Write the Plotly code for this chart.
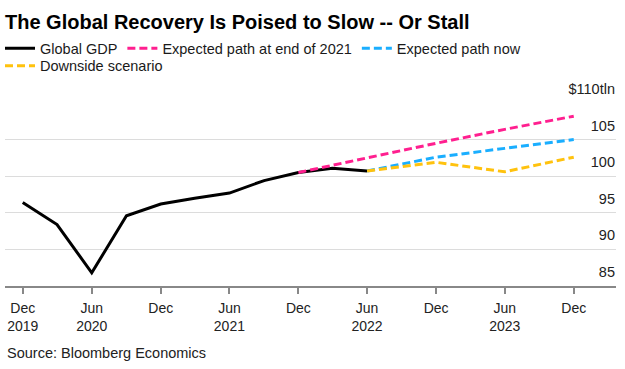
import plotly.graph_objects as go

# ---- data ----
gdp_dates = ["2019-12-01", "2020-03-01", "2020-06-01", "2020-09-01", "2020-12-01",
             "2021-03-01", "2021-06-01", "2021-09-01", "2021-12-01", "2022-03-01",
             "2022-06-01"]
gdp_values = [96.4, 93.4, 86.8, 94.6, 96.2, 97.0, 97.7, 99.4, 100.5, 101.1, 100.7]

end2021_dates = ["2021-12-01", "2022-06-01", "2022-12-01", "2023-06-01", "2023-12-01"]
end2021_values = [100.5, 102.5, 104.5, 106.4, 108.2]

now_dates = ["2022-06-01", "2022-12-01", "2023-06-01", "2023-12-01"]
now_values = [100.7, 102.6, 103.8, 105.0]

down_dates = ["2022-06-01", "2022-12-01", "2023-06-01", "2023-12-01"]
down_values = [100.7, 101.9, 100.6, 102.6]

x_tick_vals = ["2019-12-01", "2020-06-01", "2020-12-01", "2021-06-01", "2021-12-01",
               "2022-06-01", "2022-12-01", "2023-06-01", "2023-12-01"]
x_tick_labels = ["Dec<br>2019", "Jun<br>2020", "Dec", "Jun<br>2021", "Dec",
                 "Jun<br>2022", "Dec", "Jun<br>2023", "Dec"]

y_tick_vals = [85, 90, 95, 100, 105, 110]
y_tick_labels = ["85", "90", "95", "100", "105", "$110tln"]

FONT = "Liberation Sans, Arial, Helvetica, sans-serif"
W, H = 625, 369
M_L, M_R, M_T, M_B = 5, 9, 103, 83
PLOT_W = W - M_L - M_R
PLOT_H = H - M_T - M_B

fig = go.Figure()
fig.add_trace(go.Scatter(x=gdp_dates, y=gdp_values, mode="lines", name="Global GDP",
                         line=dict(color="#000000", width=3), legend="legend"))
fig.add_trace(go.Scatter(x=end2021_dates, y=end2021_values, mode="lines",
                         name="Expected path at end of 2021", legend="legend",
                         line=dict(color="#ff1f8f", width=3, dash="8px,4px")))
fig.add_trace(go.Scatter(x=now_dates, y=now_values, mode="lines", name="Expected path now",
                         legend="legend",
                         line=dict(color="#1aaeff", width=3, dash="8px,4px")))
fig.add_trace(go.Scatter(x=down_dates, y=down_values, mode="lines", name="Downside scenario",
                         legend="legend2",
                         line=dict(color="#ffc20e", width=3, dash="8px,4px")))

legend_common = dict(orientation="h", xref="container", x=0, xanchor="left",
                     yref="container", yanchor="middle",
                     font=dict(family=FONT, size=14.5, color="#1a1a1a"),
                     bgcolor="rgba(0,0,0,0)", itemwidth=30)

fig.update_layout(
    width=W, height=H,
    margin=dict(l=M_L, r=M_R, t=M_T, b=M_B, autoexpand=False),
    paper_bgcolor="white", plot_bgcolor="white",
    font=dict(family=FONT, size=14.5, color="#222222"),
    title=dict(text="The Global Recovery Is Poised to Slow -- Or Stall",
               font=dict(family=FONT, size=20, color="#000000", weight="bold"),
               xref="container", x=5 / W, xanchor="left",
               yref="container", y=1 - 21.5 / H, yanchor="middle"),
    legend=dict(y=1 - 48.3 / H, **legend_common),
    legend2=dict(y=1 - 65.7 / H, **legend_common),
    showlegend=True,
    xaxis=dict(type="date", range=["2019-10-15", "2024-03-22"],
               tickmode="array", tickvals=x_tick_vals, ticktext=x_tick_labels,
               ticks="outside", ticklen=6, tickwidth=1.5, tickcolor="#888888",
               showline=True, linecolor="#888888", linewidth=2,
               showgrid=False, zeroline=False, ticklabelstandoff=2,
               tickfont=dict(family=FONT, size=14, color="#222222")),
    yaxis=dict(side="right", range=[85, 110], tickmode="array",
               tickvals=y_tick_vals, ticktext=y_tick_labels,
               ticks="", showgrid=True, gridcolor="#dcdcdc", gridwidth=1,
               zeroline=False, showline=False,
               ticklabelposition="inside top", ticklabeloverflow="allow",
               ticklabelshift=-4, ticklabelstandoff=-2,
               tickfont=dict(family=FONT, size=14.5, color="#222222")),
    annotations=[dict(text="Source: Bloomberg Economics", showarrow=False,
                      xref="paper", x=0, xanchor="left",
                      yref="paper", y=(286 - 353.3) / PLOT_H, yanchor="middle",
                      font=dict(family=FONT, size=14.5, color="#222222"))],
)

fig.write_html("out.html", config={"displayModeBar": False},
               post_script="document.body.style.margin='0';")
